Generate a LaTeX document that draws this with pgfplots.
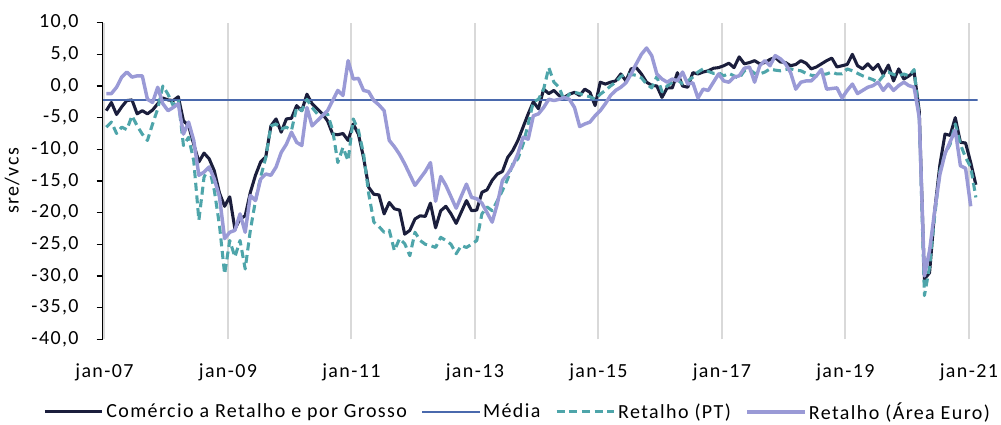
\documentclass[border=0pt]{standalone}
\usepackage{fontspec}
\setmainfont{Carlito}[LetterSpace=7]
\usepackage{pgfplots}
\usepackage{pgfplotstable}
\pgfplotsset{compat=1.18}

\definecolor{comcol}{HTML}{1B1E3C}
\definecolor{mediacol}{HTML}{4A69AD}
\definecolor{ptcol}{HTML}{4EA5AA}
\definecolor{eacol}{HTML}{9A9AD6}
\definecolor{gridcol}{HTML}{D9D9D9}

% j = months since jan-07; com = Comercio a Retalho e por Grosso; pt = Retalho (PT); ea = Retalho (Area Euro)
\pgfplotstableread{
j com pt ea
0 -3.9 -6.5 -1.2
1 -2.6 -5.7 -1.2
2 -4.5 -7.5 -0.2
3 -3.3 -6.5 1.4
4 -2.3 -6.9 2.2
5 -2.2 -4.7 1.4
6 -4.4 -6.3 1.6
7 -3.9 -7.6 1.6
8 -4.4 -8.6 -2.1
9 -3.8 -6.0 -2.6
10 -2.8 -3.6 -0.2
11 -1.9 0.0 -2.8
12 -2.2 -1.3 -3.9
13 -2.3 -3.1 -3.4
14 -1.7 -2.2 -2.8
15 -5.5 -9.4 -7.6
16 -6.3 -8.1 -5.7
17 -9.2 -11.8 -8.6
18 -12.0 -21.2 -14.1
19 -10.6 -14.4 -13.6
20 -11.5 -12.8 -12.8
21 -13.4 -16.5 -14.7
22 -16.9 -22.0 -17.5
23 -19.0 -29.7 -24.1
24 -17.5 -24.4 -23.1
25 -22.6 -27.0 -22.8
26 -21.0 -24.4 -20.2
27 -20.5 -28.9 -23.1
28 -16.8 -22.8 -17.3
29 -14.1 -18.1 -18.1
30 -12.0 -14.4 -14.7
31 -11.2 -11.3 -13.9
32 -6.3 -6.3 -14.1
33 -5.2 -6.0 -12.8
34 -7.3 -6.8 -10.5
35 -5.2 -6.5 -9.2
36 -5.1 -7.0 -7.3
37 -3.1 -3.4 -8.9
38 -3.9 -3.9 -9.4
39 -1.3 -2.1 -3.4
40 -2.8 -3.4 -6.3
41 -3.6 -4.4 -5.5
42 -4.4 -4.5 -4.7
43 -5.5 -4.4 -3.9
44 -7.6 -7.0 -2.3
45 -7.7 -12.1 -0.7
46 -7.5 -9.7 -1.5
47 -8.6 -11.8 4.0
48 -6.0 -5.2 1.1
49 -7.6 -7.0 1.2
50 -11.3 -10.7 -0.7
51 -16.0 -17.0 -0.9
52 -17.1 -21.5 -2.3
53 -17.2 -22.2 -3.0
54 -20.2 -23.1 -3.9
55 -18.4 -22.8 -8.6
56 -19.4 -26.0 -9.6
57 -19.6 -24.1 -10.8
58 -23.4 -24.9 -12.3
59 -22.8 -26.8 -14.0
60 -21.0 -23.1 -15.7
61 -20.5 -24.4 -14.6
62 -20.6 -25.0 -13.5
63 -18.5 -25.2 -12.1
64 -22.4 -25.5 -18.2
65 -19.7 -23.9 -14.3
66 -19.0 -24.4 -15.7
67 -20.2 -25.0 -17.5
68 -21.7 -26.5 -19.3
69 -19.9 -25.2 -17.4
70 -18.1 -25.5 -15.5
71 -19.7 -25.0 -17.6
72 -19.6 -24.4 -17.8
73 -16.8 -20.2 -18.5
74 -16.4 -19.1 -20.0
75 -14.9 -19.7 -21.5
76 -13.9 -18.1 -18.6
77 -13.5 -16.5 -14.9
78 -11.3 -14.7 -13.9
79 -10.2 -12.3 -12.6
80 -8.6 -11.5 -10.7
81 -6.5 -9.2 -8.1
82 -4.4 -6.0 -8.4
83 -2.5 -2.5 -4.7
84 -3.6 -2.1 -4.4
85 -0.5 -0.5 -3.4
86 -1.2 2.9 -2.1
87 -0.7 0.6 -2.3
88 -1.5 -0.2 -2.1
89 -1.8 -2.3 -1.8
90 -1.3 -1.3 -2.1
91 -1.0 -1.0 -3.4
92 -1.5 -1.2 -6.4
93 -0.5 -1.5 -6.0
94 -1.0 -1.7 -5.7
95 -3.1 -2.1 -4.7
96 0.6 -1.3 -3.9
97 0.3 -0.7 -2.8
98 0.6 0.0 -1.5
99 0.8 0.6 -0.7
100 1.9 1.5 -0.2
101 0.8 1.9 0.5
102 2.7 1.8 1.9
103 2.9 1.7 3.5
104 1.9 1.3 5.0
105 0.6 0.3 6.0
106 0.1 -0.3 4.8
107 0.0 1.5 1.9
108 -1.8 -0.9 1.1
109 -0.3 0.0 0.6
110 -0.3 0.6 1.1
111 2.1 1.0 0.8
112 0.0 0.3 2.2
113 -0.2 0.8 0.3
114 2.1 1.4 0.5
115 1.9 2.2 -1.9
116 2.2 2.7 -0.5
117 2.4 2.3 -0.7
118 2.8 2.0 0.6
119 2.9 2.1 1.9
120 3.2 1.6 0.8
121 3.6 2.0 0.6
122 2.9 1.6 1.4
123 4.6 1.2 1.6
124 3.5 2.4 2.8
125 3.7 2.6 3.0
126 4.0 2.0 0.6
127 3.5 1.9 3.2
128 3.7 2.2 4.0
129 4.2 2.7 3.2
130 4.5 2.5 4.8
131 3.8 2.4 4.3
132 3.7 2.6 3.5
133 3.2 2.7 2.1
134 3.4 2.5 -0.5
135 4.0 2.4 0.6
136 3.6 2.0 0.8
137 2.7 1.7 0.8
138 3.0 1.6 1.6
139 3.5 1.8 2.6
140 4.0 1.9 -0.5
141 4.4 2.2 -0.4
142 3.0 1.9 -0.3
143 3.2 1.9 -1.9
144 3.4 2.7 -0.7
145 5.0 2.4 0.3
146 3.2 2.0 -1.2
147 2.7 1.6 -0.7
148 3.5 1.3 -0.2
149 2.6 1.0 0.05
150 3.4 0.6 0.6
151 1.8 1.6 -0.7
152 3.3 2.2 0.3
153 0.8 1.8 -0.7
154 2.7 1.6 0.05
155 1.1 1.9 0.6
156 1.6 1.6 0.05
157 2.2 2.6 -0.2
158 -4.0 -5.0 -5.0
159 -30.5 -33.1 -30.0
160 -29.5 -28.6 -26.0
161 -19.7 -20.5 -19.7
162 -12.5 -13.5 -14.0
163 -7.6 -10.7 -10.7
164 -7.8 -9.2 -8.8
165 -5.0 -6.0 -7.0
166 -8.9 -9.2 -12.6
167 -9.0 -11.3 -13.0
168 -12.1 -12.8 -19.0
169 -15.6 -17.6 nan
}\datatable

\begin{document}
\begin{tikzpicture}[font=\fontsize{15}{18}\selectfont]
\path[use as bounding box] (-77pt,-64.3pt) rectangle (673.75pt,254.45pt);
\begin{axis}[
    at={(0pt,0pt)}, anchor=south west,
    scale only axis,
    width=656.25pt, height=237.45pt,
    xmin=-0.7, xmax=169.35,
    ymin=-40, ymax=10,
    xtick={-0.35,23.65,47.65,71.65,95.65,119.65,143.65,167.65},
    xticklabels={jan-07,jan-09,jan-11,jan-13,jan-15,jan-17,jan-19,jan-21},
    ytick={-40,-35,...,10},
    xmajorgrids,
    x grid style={gridcol, line width=1.5pt},
    separate axis lines,
    axis x line*=bottom,
    axis y line*=left,
    x axis line style={draw=none},
    y axis line style={-, black, line width=1pt},
    tick align=outside,
    major tick length=4.5pt,
    y tick style={black, line width=1pt},
    x tick style={draw=none},
    yticklabel style={
        /pgf/number format/fixed,
        /pgf/number format/fixed zerofill,
        /pgf/number format/precision=1,
        /pgf/number format/use comma,
        /pgf/number format/assume math mode=true,
        xshift=-10pt},
    xticklabel style={yshift=-10pt},
    ylabel={sre/vcs},
    every axis y label/.style={at={(rel axis cs:0,0.5)}, xshift=-68pt, rotate=90, anchor=center},
    legend columns=4,
    legend style={draw=none, at={(0.4746,-0.2296)}, anchor=center,
        /tikz/every even column/.append style={column sep=9pt},
        font=\fontsize{15}{18}\selectfont},
    legend image code/.code={\draw[#1] (0pt,0pt) -- (43pt,0pt);},
]
\addplot[comcol, line width=2.3pt, line join=round] table[x=j, y=com] {\datatable};
\addlegendentry{Comércio a Retalho e por Grosso}
\addplot[mediacol, line width=1.1pt] coordinates {(-0.7,-2.2) (169.35,-2.2)};
\addlegendentry{Média}
\addplot[ptcol, line width=2.3pt, line join=round, dash pattern=on 6pt off 3.5pt] table[x=j, y=pt] {\datatable};
\addlegendentry{Retalho (PT)}
\addplot[eacol, line width=2.6pt, line join=round] table[x=j, y=ea] {\datatable};
\addlegendentry{Retalho (Área Euro)}
\end{axis}
\end{tikzpicture}
\end{document}
